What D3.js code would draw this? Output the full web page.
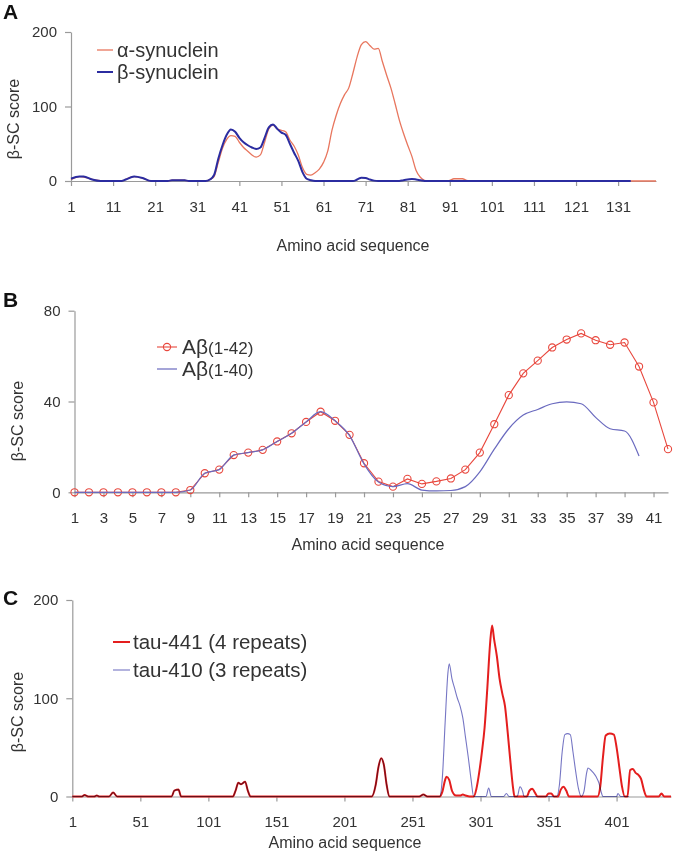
<!DOCTYPE html>
<html><head><meta charset="utf-8">
<script src="https://cdn.jsdelivr.net/npm/d3@7"></script>
<style>body{margin:0;background:#fff}svg{display:block;background:#fff}</style>
</head><body>
<svg id="c" width="673" height="853"></svg>
<script>
// ---------- Panel A: synucleins (residue, score keypoints) ----------
const alphaRes = [1,3,5,7,9,13,15,16,18,20,24,25,28,29,33,34,35,36,37,38,39,40,41,42,43,44,45,46,47,48,49,50,51,52,53,54,55,56,57,58,59,60,61,62,63,64,65,66,67,68,69,70,71,72,73,74,75,76,77,78,79,80,81,82,83,84,85,86,90,91,92,94,95,96,140];
const alphaVal = [2,6,4,1,0,0,5,6,4,0,0,1,1,0,0,2,6,25,44,56,61,60,52,45,40,35,32,35,52,70,75,70,68,66,55,47,35,18,9,8,11,16,25,40,68,88,104,116,125,145,167,183,187,182,177,178,160,142,125,104,82,64,48,33,14,5,1,0,0,1,3,3,1,0,0];
const betaRes = [1,3,4,6,8,13,14,16,18,20,24,25,28,29,33,34,35,36,37,38,39,40,41,42,43,44,45,46,47,48,49,50,51,52,53,54,55,56,57,58,59,68,69,70,71,72,73,74,79,80,82,83,84,85,134];
const betaVal = [3,6,6,2,0,0,2,6,4,0,0,1,1,0,0,2,8,30,48,62,69,66,58,52,48,45,43,45,58,72,76,70,65,62,50,38,27,12,3,1,0,0,2,4.5,4,2,0.5,0,0,1,2.7,2,1,0,0];
const aTicks = [1,11,21,31,41,51,61,71,81,91,101,111,121,131];
const aYTicks = [0,100,200];

// ---------- Panel B: amyloid-beta (per residue) ----------
const ab42 = [0,0,0,0,0,0,0,0,1,8.4,10,16.4,17.5,18.7,22.4,26,31,35.5,31.5,25.3,12.8,4.7,2.5,5.9,3.7,4.8,6.1,10,17.5,30,42.8,52.4,58,63.8,67.3,70,67,65,66,55.4,39.6,19];
const ab40 = [0,0,0,0,0,0,0,0,1,8.4,10,16.4,17.5,18.7,22.4,26,31,35.5,31.5,25,12.5,4.5,2.5,3.8,1,0.6,0.8,2.5,9,19,28,34,36.5,39,39.8,39,33,28,27,16];
const bTicks = [1,3,5,7,9,11,13,15,17,19,21,23,25,27,29,31,33,35,37,39,41];
const bYTicks = [0,40,80];

// ---------- Panel C: tau isoforms (residue, score keypoints) ----------
const tau441Res = [1,8,10,13,17,19,21,28,31,34,74,76,79,81,119,121,123,125,128,130,132,221,224,226,228,230,232,234,256,259,262,271,273,275,276,278,280,283,286,288,290,293,296,298,300,302,304,306,308,309.5,311,313,315,317,319,321,323,325,326,335,337,339,341,343,349,351,353,355,358,360,362,364,366,387,389,391,393,396,399,401,403,405,407,409,411,413,415,417,419,421,423,432,434,436,441];
const tau441Val = [0,0,1.5,0,0,1,0,0,4,0,0,6,7,0,0,6,14,12.5,15,6,0,0,12,30,39,32,12,0,0,2,0,0,5,17,20,17,6,1,1,2,1,0,0,8,24,45,70,110,155,174,160,143,120,105,92,65,35,8,0,0,6,8,4,0,0,3,3,0,0,7,10,6,0,0,10,40,62,64,63,50,30,10,0,0,27,28,24,22,18,7,0,0,3,0,0];
const tau410Res = [1,8,10,13,17,19,21,28,31,34,74,76,79,81,119,121,123,125,128,130,132,221,224,226,228,230,232,234,256,259,262,271,273,275,277,278,280,282,284,286,288,290,292,294,296,305,307,309,318,320,322,328,330,332,333,357,359,361,363,365,367,369,371,373,375,377,379,380,382,384,386,388,390,391,401,402,404,410];
const tau410Val = [0,0,1.5,0,0,1,0,0,4,0,0,6,7,0,0,6,14,12.5,15,6,0,0,12,30,39,32,12,0,0,2,0,0,20,75,125,135,120,110,100,92,80,60,40,18,0,0,8.5,0,0,3,0,0,10,5,0,0,12,45,63,64,63,45,25,8,0,5,24,29,27,24,20,14,3,0,0,3,0,0];
const cTicks = [1,51,101,151,201,251,301,351,401];
const cYTicks = [0,100,200];

const svg = d3.select("#c");
const FONT = "Liberation Sans, Arial, sans-serif";
const AX = "#9a9a9a", TX = "#333";

function axes(x, y, xt, yt) {
  const gx = svg.append("g").attr("transform", `translate(0,${y.range()[0]})`)
    .call(d3.axisBottom(x).tickValues(xt).tickSize(5).tickSizeOuter(0).tickPadding(15).tickFormat(d3.format("d")));
  const gy = svg.append("g").attr("transform", `translate(${x.range()[0]},0)`)
    .call(d3.axisLeft(y).tickValues(yt).tickSize(6).tickSizeOuter(0).tickPadding(8));
  [gx, gy].forEach(g => {
    g.select(".domain").attr("stroke", AX).attr("stroke-width", 1.2);
    g.selectAll(".tick line").attr("stroke", AX).attr("stroke-width", 1.2);
    g.selectAll("text").attr("fill", TX).attr("font-size", 15).attr("font-family", FONT);
  });
}
function label(t, x, y) {
  svg.append("text").attr("x", x).attr("y", y).text(t).attr("font-family", FONT)
    .attr("font-weight", "bold").attr("font-size", 21).attr("fill", "#111");
}
function xTitle(cx, cy) {
  svg.append("text").attr("x", cx).attr("y", cy).attr("dy", "0.35em").attr("text-anchor", "middle")
    .attr("font-family", FONT).attr("font-size", 16).attr("fill", TX).text("Amino acid sequence");
}
function yTitle(cx, cy) {
  svg.append("text").attr("transform", `translate(${cx},${cy}) rotate(-90)`).attr("dy", "0.35em")
    .attr("text-anchor", "middle").attr("font-family", FONT).attr("font-size", 16).attr("fill", TX).text("β-SC score");
}
function zip(a, b) { return a.map((r, i) => [r, b[i]]); }
function legendText(x, y, t, size) {
  return svg.append("text").attr("x", x).attr("y", y).attr("dy", "0.35em").attr("font-family", FONT)
    .attr("font-size", size).attr("fill", TX).text(t);
}

// ===== Panel A =====
{
  const x = d3.scaleLinear().domain([1, 140]).range([71, 656]);
  const y = d3.scaleLinear().domain([0, 200]).range([181, 32]);
  axes(x, y, aTicks, aYTicks);
  const line = d3.line().x(d => x(d[0])).y(d => y(d[1])).curve(d3.curveMonotoneX);
  svg.append("path").datum(zip(alphaRes, alphaVal)).attr("d", line).attr("fill", "none")
    .attr("stroke", "#e8765e").attr("stroke-width", 1.3);
  svg.append("path").datum(zip(betaRes, betaVal)).attr("d", line).attr("fill", "none")
    .attr("stroke", "#2b2ca0").attr("stroke-width", 2);
  label("A", 3, 19);
  xTitle(353, 245);
  yTitle(13, 119);
  svg.append("line").attr("x1", 97).attr("x2", 113).attr("y1", 50).attr("y2", 50).attr("stroke", "#e8765e").attr("stroke-width", 1.3);
  svg.append("line").attr("x1", 97).attr("x2", 113).attr("y1", 72).attr("y2", 72).attr("stroke", "#2b2ca0").attr("stroke-width", 2);
  legendText(117, 50, "α-synuclein", 20);
  legendText(117, 72, "β-synuclein", 20);
}

// ===== Panel B =====
{
  const x = d3.scaleLinear().domain([1, 42]).range([74.5, 668]);
  const y = d3.scaleLinear().domain([0, 80]).range([492.3, 310.7]);
  axes(x, y, bTicks, bYTicks);
  const red = "#e8473d", blue = "#6a6abf";
  const d42 = ab42.map((v, i) => [i + 1, v]);
  const d40 = ab40.map((v, i) => [i + 1, v]);
  svg.append("path").datum(d42).attr("d", d3.line().x(d => x(d[0])).y(d => y(d[1])))
    .attr("fill", "none").attr("stroke", red).attr("stroke-width", 1.1);
  svg.append("g").selectAll("circle").data(d42).join("circle")
    .attr("cx", d => x(d[0])).attr("cy", d => y(d[1])).attr("r", 3.6)
    .attr("fill", "none").attr("stroke", red).attr("stroke-width", 1.1);
  svg.append("path").datum(d40).attr("d", d3.line().x(d => x(d[0])).y(d => y(d[1])).curve(d3.curveMonotoneX))
    .attr("fill", "none").attr("stroke", blue).attr("stroke-width", 1.2);
  label("B", 3, 307);
  xTitle(368, 544);
  yTitle(17, 421);
  svg.append("line").attr("x1", 157).attr("x2", 177).attr("y1", 347).attr("y2", 347).attr("stroke", red).attr("stroke-width", 1.1);
  svg.append("circle").attr("cx", 167).attr("cy", 347).attr("r", 3.6).attr("fill", "none").attr("stroke", red).attr("stroke-width", 1.1);
  svg.append("line").attr("x1", 157).attr("x2", 177).attr("y1", 369).attr("y2", 369).attr("stroke", blue).attr("stroke-width", 1.2);
  [["(1-42)", 347], ["(1-40)", 369]].forEach(([s, yy]) => {
    const t = legendText(182, yy, "Aβ", 21);
    t.append("tspan").attr("font-size", 17).text(s);
  });
}

// ===== Panel C =====
{
  const x = d3.scaleLinear().domain([1, 441]).range([72.3, 671]);
  const y = d3.scaleLinear().domain([0, 200]).range([796.5, 600]);
  axes(x, y, cTicks, cYTicks);
  const red = "#e41e1e", blue = "#7676c4";
  const line = d3.line().x(d => x(d[0])).y(d => y(d[1])).curve(d3.curveMonotoneX);
  svg.append("path").datum(zip(tau441Res, tau441Val)).attr("d", line).attr("fill", "none")
    .attr("stroke", red).attr("stroke-width", 2);
  svg.append("path").datum(zip(tau410Res, tau410Val)).attr("d", line).attr("fill", "none")
    .attr("stroke", blue).attr("stroke-width", 1.1).style("mix-blend-mode", "multiply");
  label("C", 3, 605);
  xTitle(345, 842);
  yTitle(17, 712);
  svg.append("line").attr("x1", 113).attr("x2", 130).attr("y1", 642).attr("y2", 642).attr("stroke", red).attr("stroke-width", 2);
  svg.append("line").attr("x1", 113).attr("x2", 130).attr("y1", 670).attr("y2", 670).attr("stroke", blue).attr("stroke-width", 1.1);
  legendText(133, 642, "tau-441 (4 repeats)", 20.5);
  legendText(133, 670, "tau-410 (3 repeats)", 20.5);
}
</script>
</body></html>
